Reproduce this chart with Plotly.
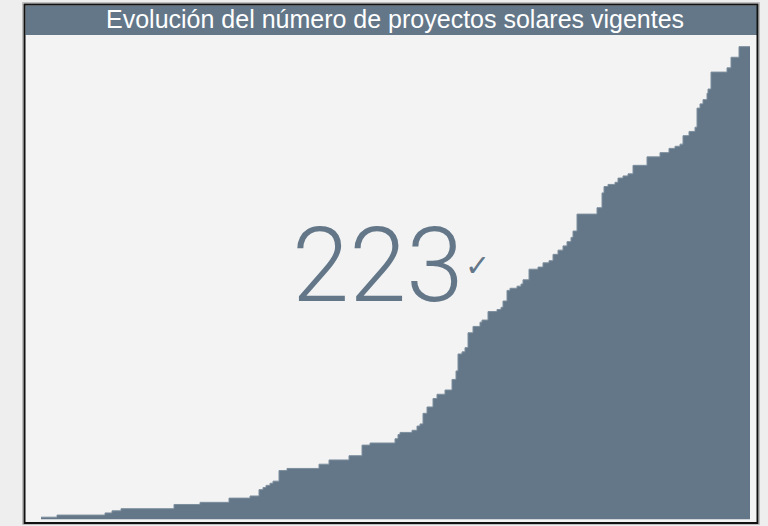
import plotly.graph_objects as go

# datos: dia (desde el primer proyecto) y proyectos vigentes
dias = [0, 16, 64, 71, 80, 133, 159, 188, 209, 218, 222, 225, 229, 232,
        238, 246, 278, 288, 308, 321, 329, 354, 357, 359, 371, 376, 379,
        382, 386, 392, 396, 404, 411, 415, 417, 421, 424, 427, 432, 439,
        441, 447, 456, 460, 462, 466, 469, 476, 480, 482, 488, 497, 502,
        508, 512, 517, 522, 526, 530, 532, 536, 556, 561, 563, 567, 574,
        577, 582, 587, 592, 606, 619, 628, 634, 639, 642, 648, 654, 656,
        659, 662, 666, 667, 670, 686, 690, 698, 709]
proyectos = [1, 2, 3, 4, 5, 7, 8, 10, 11, 14, 15, 16, 17, 18,
             23, 24, 26, 28, 30, 35, 36, 38, 40, 41, 42, 44, 45,
             50, 53, 57, 59, 61, 66, 70, 78, 79, 81, 88, 91, 93,
             94, 98, 99, 100, 103, 108, 109, 110, 111, 113, 118, 119, 121,
             122, 125, 127, 129, 131, 133, 136, 144, 147, 154, 157, 158, 159,
             161, 162, 163, 167, 171, 173, 175, 176, 177, 181, 183, 185, 194,
             196, 198, 201, 203, 211, 213, 218, 223, 223]

titulo = "Evolución del número de proyectos solares vigentes"
total = proyectos[-1]

W, H = 768, 526
ML, MR, MT, MB = 26, 11, 35, 5
PW, PH = W - ML - MR, H - MT - MB


def px(x):
    return (x - ML) / PW


def py(y):
    return (H - MB - y) / PH


color = "#637789"

fig = go.Figure()
fig.add_trace(go.Scatter(x=dias, y=proyectos, mode="lines",
                         line=dict(shape="hv", color="#7d8e9d", width=1),
                         fill="tozeroy", fillcolor=color,
                         hoverinfo="skip", showlegend=False))

shapes = [
    # fondo de la tarjeta
    dict(type="rect", xref="paper", yref="paper", layer="below",
         x0=px(24), x1=px(758), y0=py(523), y1=py(4),
         fillcolor="#f3f3f3", line=dict(width=0)),
    # barra del titulo
    dict(type="rect", xref="paper", yref="paper", layer="above",
         x0=px(25.5), x1=px(757), y0=py(35), y1=py(5.5),
         fillcolor=color, line=dict(width=0)),
    # borde exterior gris y borde negro
    dict(type="rect", xref="paper", yref="paper", layer="above",
         x0=px(22.5), x1=px(759.5), y0=py(524.5), y1=py(2.5),
         line=dict(color="#bdbdbd", width=1)),
    dict(type="rect", xref="paper", yref="paper", layer="above",
         x0=px(24.5), x1=px(757.5), y0=py(523), y1=py(4.5),
         line=dict(color="#111111", width=2)),
]

annotations = [
    dict(text=titulo, xref="paper", yref="paper", x=px(395), y=py(18.5),
         showarrow=False, xanchor="center", yanchor="middle",
         font=dict(family="Liberation Sans, Arial", size=25, color="white")),
    dict(text=str(total), xref="paper", yref="paper", x=px(377), y=py(265),
         showarrow=False, xanchor="center", yanchor="middle",
         font=dict(family="Roboto", size=103, color=color, weight=300)),
    dict(text="✓", xref="paper", yref="paper", x=px(477), y=py(265),
         showarrow=False, xanchor="center", yanchor="middle",
         font=dict(family="DejaVu Sans", size=30, color=color)),
]

fig.update_layout(
    width=W, height=H,
    margin=dict(l=ML, r=MR, t=MT, b=MB),
    paper_bgcolor="#eeeeee", plot_bgcolor="rgba(0,0,0,0)",
    xaxis=dict(range=[-15, 716], visible=False, fixedrange=True),
    yaxis=dict(range=[-0.8, 228.5], visible=False, fixedrange=True),
    shapes=shapes, annotations=annotations,
)

fig.write_html("out.html", config={"displayModeBar": False},
               post_script="document.body.style.margin='0';"
                           "document.body.style.overflow='hidden';"
                           "document.body.style.background='#eeeeee';")
